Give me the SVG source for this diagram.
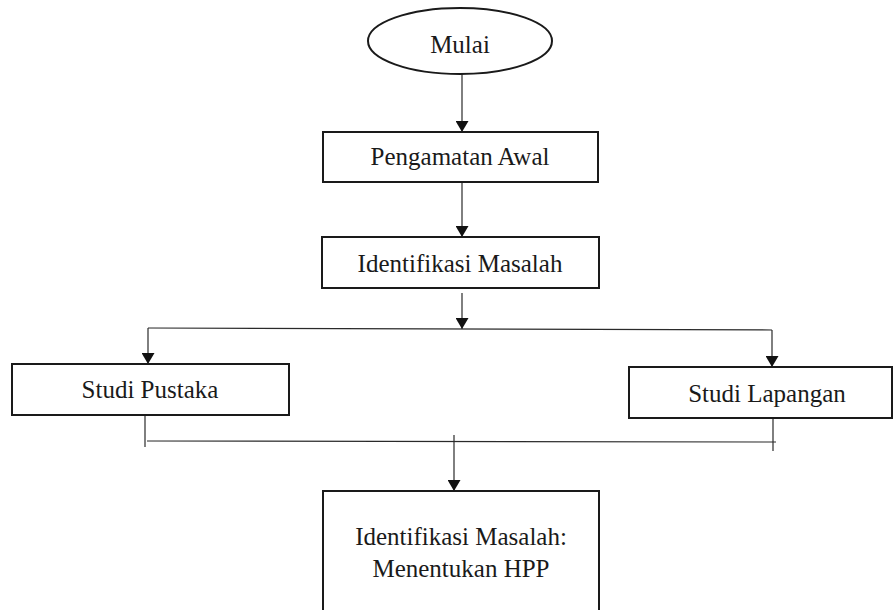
<svg xmlns="http://www.w3.org/2000/svg" width="894" height="610" viewBox="0 0 894 610">
<style>
.box{fill:#fff;stroke:#1a1a1a;stroke-width:2}
.t{font-family:"Liberation Serif","Times New Roman",serif;font-size:25px;fill:#1a1a1a;text-anchor:middle}
.ln{fill:none;stroke:#2a2a2a;stroke-width:1.2}
.arr{marker-end:url(#ah)}
</style>
<defs>
<marker id="ah" markerWidth="11" markerHeight="13" refX="11" refY="6.5" orient="auto" markerUnits="userSpaceOnUse" viewBox="0 0 11 13">
<path d="M0,0 L11,6.5 L0,13 Z" fill="#111"/>
</marker>
</defs>
<rect width="894" height="610" fill="#fff"/>
<g id="connectors">
<line class="ln arr" x1="462" y1="74" x2="462" y2="132"/>
<line class="ln arr" x1="462" y1="182" x2="462" y2="237"/>
<line class="ln arr" x1="462" y1="293" x2="462" y2="329"/>
<polyline class="ln" points="148,328 772,330"/>
<line class="ln arr" x1="148" y1="328" x2="148" y2="364"/>
<line class="ln arr" x1="772" y1="330" x2="772" y2="367"/>
<line class="ln" x1="145" y1="408" x2="145" y2="447"/>
<line class="ln" x1="773" y1="411" x2="773" y2="451"/>
<line class="ln" x1="147" y1="441" x2="776" y2="442"/>
<line class="ln arr" x1="454" y1="435" x2="454" y2="491"/>
</g>
<g id="mulai">
<ellipse class="box" cx="460" cy="41" rx="92" ry="33"/>
<text class="t" x="460" y="53">Mulai</text>
</g>
<g id="pengamatan">
<rect class="box" x="323" y="132" width="275" height="50"/>
<text class="t" x="460" y="165">Pengamatan Awal</text>
</g>
<g id="identifikasi">
<rect class="box" x="322" y="237" width="277" height="51"/>
<text class="t" x="460" y="272">Identifikasi Masalah</text>
</g>
<g id="pustaka">
<rect class="box" x="12" y="364" width="277" height="51"/>
<text class="t" x="150" y="398">Studi Pustaka</text>
</g>
<g id="lapangan">
<rect class="box" x="629" y="367" width="263" height="51"/>
<text class="t" x="767" y="402">Studi Lapangan</text>
</g>
<g id="hpp">
<rect class="box" x="323" y="491" width="276" height="140"/>
<text class="t" x="461" y="545">Identifikasi Masalah:</text>
<text class="t" x="461" y="577">Menentukan HPP</text>
</g>
</svg>
